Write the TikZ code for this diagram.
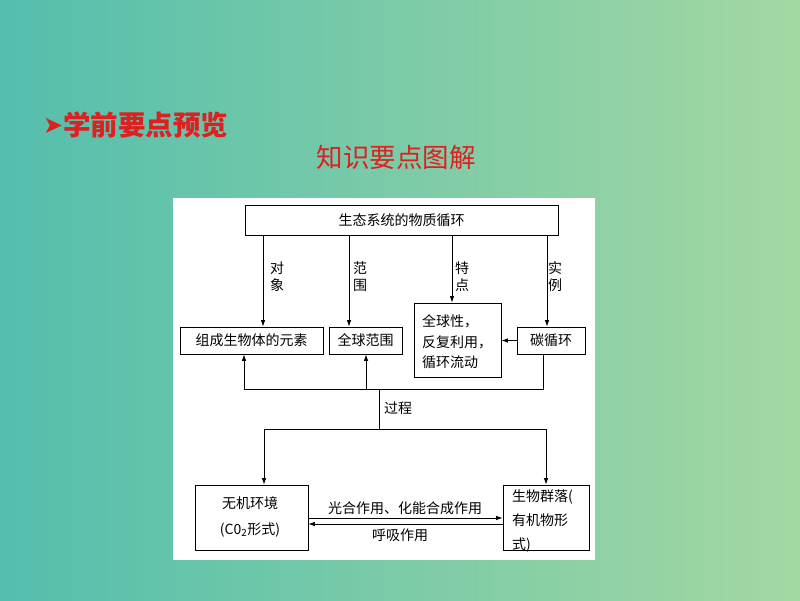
\documentclass[tikz,border=0pt]{standalone}
\usepackage{fontspec}
\setmainfont{Liberation Serif}
\newfontfamily\cjk{Noto Sans CJK SC}
\newfontfamily\dejavu{DejaVu Sans}
\usetikzlibrary{arrows.meta}
\definecolor{bgL}{RGB}{84,190,173}
\definecolor{bgR}{RGB}{163,216,162}
\definecolor{titlered}{RGB}{222,32,32}
\tikzset{
  box/.style={draw=black, line width=0.8pt, fill=white, inner sep=0pt, font=\cjk\fontsize{14}{17}\selectfont},
  lbl/.style={inner sep=0pt, font=\cjk\fontsize{14}{17}\selectfont, align=center},
  conn/.style={line width=0.8pt, draw=black},
  arr/.style={conn, -{Latex[length=6.5pt,width=4.5pt]}},
}
\begin{document}
\begin{tikzpicture}[x=1pt,y=-1pt]
\useasboundingbox (0,0) rectangle (800,600);
\shade[left color=bgL, right color=bgR] (0,0) rectangle (800,600);
% title
\node[anchor=west, inner sep=0pt, text=titlered, font=\dejavu\fontsize{24}{26}\selectfont] (arrowglyph) at (43,126) {➤};
\node[anchor=west, inner sep=0pt, text=titlered, font=\cjk\bfseries\fontsize{27.5}{30}\selectfont] (title) at (63,125) {学前要点预览};
\node[anchor=center, inner sep=0pt, text=titlered, font=\cjk\fontsize{26.5}{28}\selectfont] (subtitle) at (396,157) {知识要点图解};
% white panel
\fill[white] (173,198) rectangle (595,560);
% nodes
\node[box, minimum width=313, minimum height=30] (top) at (401.5,220) {生态系统的物质循环};
\node[box, minimum width=143, minimum height=27] (elem) at (251.5,340.5) {组成生物体的元素};
\node[box, minimum width=73, minimum height=27] (glob) at (365.5,340.5) {全球范围};
\node[box, minimum width=87, minimum height=74] (feat) at (457.5,340) {};
\node[lbl, align=left, font=\cjk\fontsize{14}{20.5}\selectfont] (feattxt) at (457,342) {全球性，\\反复利用，\\循环流动};
\node[box, minimum width=68, minimum height=27] (carb) at (551,340.5) {碳循环};
\node[box, minimum width=113, minimum height=65] (inorg) at (251.5,517.5) {};
\node[lbl, font=\cjk\fontsize{14}{26}\selectfont] (inorgtxt) at (250,517) {无机环境\\(C0\textsubscript{2}形式)};
\node[box, minimum width=86, minimum height=65] (comm) at (546,517.5) {};
\node[lbl, align=left, anchor=west, font=\cjk\fontsize{14}{24}\selectfont] (commtxt) at (512,521) {生物群落(\\有机物形\\式)};
% labels
\node[lbl, font=\cjk\fontsize{14}{17}\selectfont] (l1) at (277,277) {对\\象};
\node[lbl, font=\cjk\fontsize{14}{17}\selectfont] (l2) at (360,277) {范\\围};
\node[lbl, font=\cjk\fontsize{14}{17}\selectfont] (l3) at (462,277) {特\\点};
\node[lbl, font=\cjk\fontsize{14}{17}\selectfont] (l4) at (555,277) {实\\例};
\node[lbl] (lproc) at (398,408) {过程};
\node[lbl] (lphoto) at (405,508) {光合作用、化能合成作用};
\node[lbl] (lresp) at (400,535) {呼吸作用};
% coordinates
\coordinate (hub) at (379,389);
\coordinate (hubL) at (244,389);
\coordinate (hubR) at (543,389);
\coordinate (low) at (379,429);
\coordinate (lowL) at (264,429);
\coordinate (lowR) at (546,429);
% connectors from top
\draw[arr] (top.south -| 263,0) -- (elem.north -| 263,0);
\draw[arr] (top.south -| 349,0) -- (glob.north -| 349,0);
\draw[arr] (top.south -| 452,0) -- (feat.north -| 452,0);
\draw[arr] (top.south -| 547,0) -- (carb.north -| 547,0);
\draw[arr] (carb.west) -- (feat.east |- carb.west);
% process
\draw[conn] (carb.south -| hubR) -- (hubR) -- (hubL);
\draw[arr] (hubL) -- (elem.south -| hubL);
\draw[arr] (hub -| 366,0) -- (glob.south -| 366,0);
\draw[conn] (hub) -- (low);
\draw[conn] (lowL) -- (lowR);
\draw[arr] (lowL) -- (inorg.north -| lowL);
\draw[arr] (lowR) -- (comm.north -| lowR);
% cycle
\draw[arr] (inorg.east |- 0,518) -- (comm.west |- 0,518);
\draw[arr] (comm.west |- 0,524) -- (inorg.east |- 0,524);
\end{tikzpicture}
\end{document}
